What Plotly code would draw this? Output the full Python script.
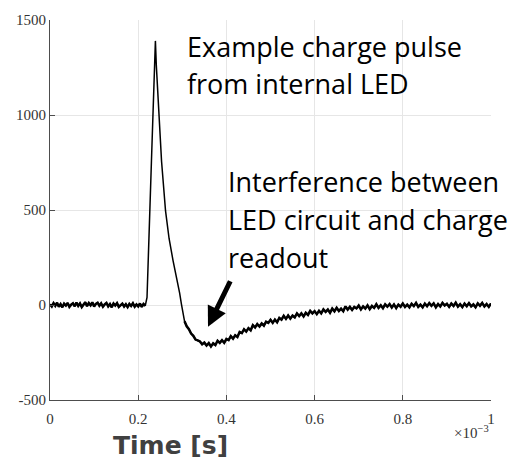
import plotly.graph_objects as go

# Charge trace, time in microseconds, amplitude in ADC counts
BASE_T_US = [0, 4, 8, 12, 16, 20, 24, 28, 32, 36,
             40, 44, 48, 52, 56, 60, 64, 68, 72, 76,
             80, 84, 88, 92, 96, 100, 104, 108, 112, 116,
             120, 124, 128, 132, 136, 140, 144, 148, 152, 156,
             160, 164, 168, 172, 176, 180, 184, 188, 192, 196,
             200, 204, 208, 212, 216]
BASE_V = [3, -8, 10, -4, 12, -9, 5, -12, 7, -3,
          11, -10, 2, 9, -7, 13, -5, 8, -11, 4,
          15, -6, 10, -2, 14, -8, 6, 12, -4, 9,
          -9, 3, 11, -7, 5, -12, 8, -3, 10, -10,
          1, 7, -8, 4, -11, 6, -5, 9, -9, 3,
          -7, 8, -10, 5, -4]

PULSE_T_US = [220, 230, 236, 239, 241, 246, 253, 262, 270, 279, 287, 294, 298, 302]
PULSE_V = [40, 755, 1230, 1390, 1265, 1050, 755, 495, 350, 234, 150, 62, 5, -62]

TAIL_T_US = [305, 310, 315, 320, 325, 330, 335, 340, 345, 350,
             355, 360, 365, 370, 375, 380, 385, 390, 395, 400,
             405, 410, 415, 420, 425, 430, 435, 440, 445, 450,
             455, 460, 465, 470, 475, 480, 485, 490, 495, 500,
             505, 510, 515, 520, 525, 530, 535, 540, 545, 550,
             555, 560, 565, 570, 575, 580, 585, 590, 595, 600,
             605, 610, 615, 620, 625, 630, 635, 640, 645, 650,
             655, 660, 665, 670, 675, 680, 685, 690, 695, 700,
             705, 710, 715, 720, 725, 730, 735, 740, 745, 750,
             755, 760, 765, 770, 775, 780, 785, 790, 795, 800,
             805, 810, 815, 820, 825, 830, 835, 840, 845, 850,
             855, 860, 865, 870, 875, 880, 885, 890, 895, 900,
             905, 910, 915, 920, 925, 930, 935, 940, 945, 950,
             955, 960, 965, 970, 975, 980, 985, 990, 995, 1000]
TAIL_V = [-85, -112, -127, -150, -162, -182, -186, -192, -207, -198,
          -213, -200, -218, -202, -211, -188, -199, -185, -199, -179,
          -185, -164, -177, -159, -168, -142, -148, -128, -140, -122,
          -133, -106, -118, -100, -113, -97, -109, -88, -94, -78,
          -94, -77, -91, -68, -77, -57, -73, -55, -72, -56,
          -65, -44, -58, -44, -60, -41, -52, -31, -44, -32,
          -48, -31, -44, -23, -36, -24, -41, -19, -33, -15,
          -32, -19, -33, -7, -24, -10, -26, -10, -18, -3,
          -23, -7, -19, -2, -22, -5, -15, 4, -15, -1,
          -17, 3, -9, 5, -13, 3, -16, 2, -9, 8,
          -10, 2, -12, 6, -6, 11, -10, 2, -12, 7,
          -6, 10, -4, 9, -12, 5, -8, 11, -3, 6,
          -10, 8, -5, 12, -9, 4, -11, 7, -6, 10,
          -7, 3, -12, 9, -4, 11, -8, 5, -10, 8]

X_TICKS_S = [0, 0.0002, 0.0004, 0.0006, 0.0008, 0.001]
X_TICK_TEXT = ["0", "0.2", "0.4", "0.6", "0.8", "1"]
Y_TICKS = [-500, 0, 500, 1000, 1500]
Y_TICK_TEXT = ["-500", "0", "500", "1000", "1500"]


def to_s(us_list):
    return [u * 1e-6 for u in us_list]


W, H = 514, 461
ML, MR, MT, MB = 50, 23, 16, 61
PW, PH = W - ML - MR, H - MT - MB


def px(xp):
    return (xp - ML) / PW


def py(yp):
    return (H - MB - yp) / PH


fig = go.Figure()
# full trace, thin
fig.add_trace(go.Scatter(x=to_s(BASE_T_US + PULSE_T_US + TAIL_T_US),
                         y=BASE_V + PULSE_V + TAIL_V, mode="lines",
                         line=dict(color="black", width=1.5),
                         showlegend=False, hoverinfo="skip"))
# noisy quiet stretches drawn a little heavier
for tt, vv in ((BASE_T_US, BASE_V), (TAIL_T_US, TAIL_V)):
    fig.add_trace(go.Scatter(x=to_s(tt), y=vv, mode="lines",
                             line=dict(color="black", width=2.5),
                             showlegend=False, hoverinfo="skip"))

tick_font = dict(family="Liberation Serif", size=15, color="#333333")
axis_common = dict(showgrid=True, gridcolor="#e6e6e6", gridwidth=1,
                   showline=True, linecolor="#4d4d4d", linewidth=1,
                   ticks="inside", ticklen=5, tickcolor="#4d4d4d",
                   tickfont=tick_font, zeroline=False, mirror=False)

fig.update_layout(
    width=W, height=H,
    margin=dict(l=ML, r=MR, t=MT, b=MB, pad=0),
    paper_bgcolor="white", plot_bgcolor="white",
    xaxis=dict(range=[0, 0.001], tickvals=X_TICKS_S, ticktext=X_TICK_TEXT,
               ticklabelstandoff=5, **axis_common),
    yaxis=dict(range=[-500, 1500], tickvals=Y_TICKS, ticktext=Y_TICK_TEXT,
               **axis_common),
)

label_font = dict(family="Open Sans", size=27, color="black")
lines = [
    ("Example charge pulse", 185, 42.5),
    ("from internal LED", 185, 80),
    ("Interference between", 226, 179.5),
    ("LED circuit and charge", 226, 217.5),
    ("readout", 226, 255.5),
]
for txt, xp, yp in lines:
    fig.add_annotation(text=txt, xref="paper", yref="paper",
                       x=px(xp), y=py(yp), xanchor="left", yanchor="middle",
                       showarrow=False, font=label_font)

# arrow pointing at the undershoot
fig.add_annotation(text="", xref="paper", yref="paper",
                   x=px(208), y=py(326), ax=23, ay=-47,
                   axref="pixel", ayref="pixel",
                   showarrow=True, arrowhead=2, arrowsize=0.8,
                   arrowwidth=5, arrowcolor="black")

fig.add_annotation(text="×10<sup>−3</sup>", xref="paper", yref="paper",
                   x=px(491), y=py(432), xanchor="right", yanchor="middle",
                   showarrow=False,
                   font=dict(family="Liberation Serif", size=15, color="#333333"))

fig.add_annotation(text="<b>Time [s]</b>", xref="paper", yref="paper",
                   x=px(170), y=py(446), xanchor="center", yanchor="middle",
                   showarrow=False,
                   font=dict(family="DejaVu Sans", size=25, color="#404040"))

fig.write_html("out.html")
